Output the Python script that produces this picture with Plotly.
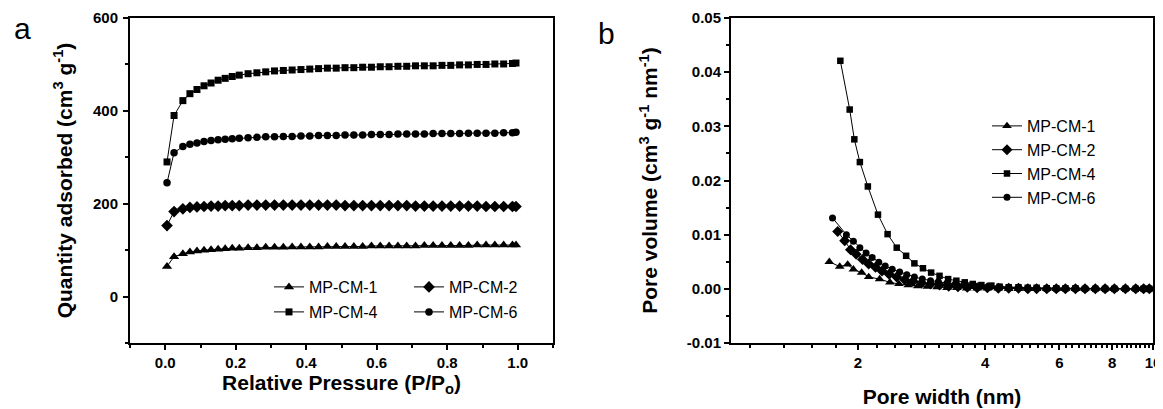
import plotly.graph_objects as go

# ---------------- data: panel a (N2 isotherms) ----------------
pressure = [0.005, 0.025, 0.05, 0.07, 0.09, 0.11, 0.13, 0.15, 0.17, 0.19, 0.21,
            0.235, 0.26, 0.285, 0.31, 0.335, 0.36, 0.385, 0.41, 0.435, 0.46,
            0.485, 0.51, 0.535, 0.56, 0.585, 0.61, 0.635, 0.66, 0.685, 0.71,
            0.735, 0.76, 0.785, 0.81, 0.835, 0.86, 0.885, 0.91, 0.935, 0.96,
            0.985, 0.995]
q_cm1 = [65, 86, 92, 96, 98, 100, 101, 102, 103, 104, 104, 105, 105, 106, 106,
         106, 107, 107, 107, 107, 108, 108, 108, 108, 108, 109, 109, 109, 109,
         109, 109, 110, 110, 110, 110, 110, 110, 111, 111, 111, 111, 111, 111]
q_cm2 = [153, 183, 189, 192, 193, 194, 195, 195, 196, 196, 196, 197, 197, 197,
         197, 197, 197, 197, 197, 197, 197, 197, 196, 196, 196, 196, 196, 196,
         196, 196, 195, 195, 195, 195, 195, 195, 195, 195, 194, 194, 194, 194, 194]
q_cm4 = [290, 390, 422, 437, 446, 454, 460, 466, 470, 474, 477, 480, 482, 484,
         486, 487, 488, 489, 490, 491, 492, 492, 493, 493, 494, 494, 495, 495,
         496, 496, 497, 497, 497, 498, 498, 499, 499, 500, 500, 501, 501, 502, 503]
q_cm6 = [245, 310, 323, 328, 331, 334, 336, 338, 339, 340, 341, 342, 343, 344,
         344, 345, 345, 346, 346, 347, 347, 347, 348, 348, 348, 349, 349, 349,
         350, 350, 350, 350, 351, 351, 351, 351, 352, 352, 352, 352, 353, 353, 354]

# ---------------- data: panel b (pore size distribution) ----------------
w_cm1 = [1.71, 1.81, 1.89, 1.95, 2.04, 2.12, 2.25, 2.38, 2.5, 2.63, 2.77, 2.92,
         3.08, 3.25, 3.43, 3.62, 3.83, 4.05, 4.3, 4.55, 4.8, 5.05, 5.3, 5.6, 5.9,
         6.2, 6.55, 6.9, 7.3, 7.7, 8.1, 8.6, 9.1, 9.5, 9.8]
v_cm1 = [0.0050, 0.0041, 0.0045, 0.0036, 0.0030, 0.0022, 0.0018, 0.0012, 0.0009,
         0.0007, 0.0005, 0.0004, 0.0003, 0.0002, 0.0002, 0.0001, 0.0001, 0.0001,
         0.0001, 0.0000, 0.0000, 0.0000, 0.0000, 0.0000, 0.0000, 0.0000, 0.0000,
         0.0000, 0.0000, 0.0000, 0.0000, 0.0000, 0.0000, 0.0000, 0.0000]
w_cm2 = [1.79, 1.86, 1.92, 1.98, 2.05, 2.12, 2.2, 2.28, 2.37, 2.47, 2.58, 2.7,
         2.83, 2.97, 3.12, 3.28, 3.45, 3.63, 3.83, 4.05, 4.3, 4.55, 4.8, 5.05,
         5.3, 5.6, 5.9, 6.2, 6.55, 6.9, 7.3, 7.7, 8.1, 8.6, 9.1, 9.5, 9.8]
v_cm2 = [0.0106, 0.0089, 0.0072, 0.0064, 0.0054, 0.0046, 0.0040, 0.0033, 0.0027,
         0.0022, 0.0017, 0.0014, 0.0011, 0.0009, 0.0007, 0.0005, 0.0004, 0.0003,
         0.0002, 0.0002, 0.0001, 0.0001, 0.0001, 0.0000, 0.0000, 0.0000, 0.0000,
         0.0000, 0.0000, 0.0000, 0.0000, 0.0000, 0.0000, 0.0000, 0.0000, 0.0000, 0.0000]
w_cm4 = [1.816, 1.911, 1.96, 2.02, 2.11, 2.23, 2.35, 2.47, 2.6, 2.72, 2.85, 2.98,
         3.12, 3.27, 3.42, 3.58, 3.74, 3.92, 4.14, 4.33, 4.55, 4.8, 5.05, 5.3,
         5.6, 5.9, 6.2, 6.55, 6.9, 7.3, 7.7, 8.1, 8.6, 9.1, 9.5, 9.8]
v_cm4 = [0.0421, 0.0331, 0.0276, 0.0234, 0.0189, 0.0137, 0.0101, 0.0076, 0.0061,
         0.0047, 0.0038, 0.0030, 0.0024, 0.0018, 0.0015, 0.0012, 0.0009, 0.0007,
         0.0006, 0.0004, 0.0003, 0.0003, 0.0002, 0.0002, 0.0001, 0.0001, 0.0001,
         0.0001, 0.0000, 0.0000, 0.0000, 0.0000, 0.0000, 0.0000, 0.0000, 0.0000]
w_cm6 = [1.74, 1.877, 1.95, 2.02, 2.09, 2.16, 2.24, 2.32, 2.41, 2.51, 2.61, 2.72,
         2.84, 2.97, 3.1, 3.25, 3.4, 3.56, 3.73, 3.92, 4.12, 4.34, 4.55, 4.8,
         5.05, 5.3, 5.6, 5.9, 6.2, 6.55, 6.9, 7.3, 7.7, 8.1, 8.6, 9.1, 9.5, 9.8]
v_cm6 = [0.0131, 0.0100, 0.0088, 0.0076, 0.0066, 0.0058, 0.0049, 0.0042, 0.0036,
         0.0031, 0.0026, 0.0022, 0.0018, 0.0015, 0.0013, 0.0011, 0.0009, 0.0008,
         0.0006, 0.0005, 0.0004, 0.0003, 0.0002, 0.0002, 0.0001, 0.0001, 0.0001,
         0.0001, 0.0000, 0.0000, 0.0000, 0.0000, 0.0000, 0.0000, 0.0000, 0.0000,
         0.0000, 0.0000]

names = ["MP-CM-1", "MP-CM-2", "MP-CM-4", "MP-CM-6"]
symbols = ["triangle-up", "diamond", "square", "circle"]
msizes = [9, 9, 7, 7.5]

x_major_b = [2, 4, 6, 8, 10]
y_ticks_b = [-0.01, 0.0, 0.01, 0.02, 0.03, 0.04, 0.05]
y_text_b = ["-0.01", "0.00", "0.01", "0.02", "0.03", "0.04", "0.05"]

W, H = 1163, 409
OFF = 8  # page body margin offset of the rendered figure


def px(x):
    return (x - OFF) / W


def py(y):
    return 1 - (y - OFF) / H


FONT = "Liberation Sans, Arial, sans-serif"
BLACK = "black"

fig = go.Figure()

a_y = [q_cm1, q_cm2, q_cm4, q_cm6]
a_leg = ["legend", "legend", "legend2", "legend2"]
for i in range(4):
    fig.add_trace(go.Scatter(
        x=pressure, y=a_y[i], name=names[i], mode="lines+markers",
        line=dict(color=BLACK, width=1),
        marker=dict(symbol=symbols[i], size=msizes[i], color=BLACK),
        xaxis="x", yaxis="y", legend=a_leg[i]))

b_x = [w_cm1, w_cm2, w_cm4, w_cm6]
b_y = [v_cm1, v_cm2, v_cm4, v_cm6]
for i in range(4):
    fig.add_trace(go.Scatter(
        x=b_x[i], y=b_y[i], name=names[i], mode="lines+markers",
        line=dict(color=BLACK, width=1),
        marker=dict(symbol=symbols[i], size=msizes[i] - 0.5, color=BLACK),
        xaxis="x2", yaxis="y2", legend="legend3"))

tickfont = dict(family=FONT, size=15, color=BLACK, weight="bold")
titlefont = dict(family=FONT, size=21, color=BLACK, weight="bold")
axcommon = dict(showgrid=False, zeroline=False, showline=True, linecolor=BLACK,
                linewidth=2, mirror=True, ticks="outside", ticklen=5,
                tickwidth=1.5, tickcolor=BLACK, tickfont=tickfont)

xd1 = [px(130), px(553)]
xd2 = [px(731), px(1153)]
yd = [py(343), py(18)]

legfont = dict(family=FONT, size=16, color=BLACK)

fig.update_layout(
    width=W, height=H,
    margin=dict(l=0, r=0, t=0, b=0, autoexpand=False),
    paper_bgcolor="white", plot_bgcolor="white",
    font=dict(family=FONT, color=BLACK),
    xaxis=dict(domain=xd1, range=[-0.1, 1.1], dtick=0.2, tick0=0, tickformat=".1f",
               minor=dict(dtick=0.1, tick0=0, ticklen=3, tickwidth=1.5,
                          tickcolor=BLACK, ticks="outside"),
               ticklabelstandoff=0,
               title=dict(text="Relative Pressure (P/P<sub>o</sub>)", font=titlefont,
                          standoff=0),
               anchor="y", **axcommon),
    yaxis=dict(domain=yd, range=[-100, 600], dtick=200, tick0=0,
               minor=dict(dtick=100, tick0=0, ticklen=3, tickwidth=1.5,
                          tickcolor=BLACK, ticks="outside"),
               ticklabelstandoff=2,
               title=dict(text="Quantity adsorbed (cm<sup>3</sup> g<sup>-1</sup>)",
                          font=titlefont, standoff=15),
               anchor="x", **axcommon),
    xaxis2=dict(domain=xd2, type="log", range=[0, 1], tickmode="array",
                tickvals=x_major_b, ticktext=[str(v) for v in x_major_b],
                minor=dict(dtick="L0.2222222222", tick0=2, ticklen=3,
                           tickwidth=1.5, tickcolor=BLACK, ticks="outside"),
                ticklabelstandoff=0,
                title=dict(text="Pore width (nm)", font=titlefont, standoff=19),
                anchor="y2", **axcommon),
    yaxis2=dict(domain=yd, range=[-0.01, 0.05], tickmode="array",
                tickvals=y_ticks_b, ticktext=y_text_b,
                minor=dict(dtick=0.005, tick0=0, ticklen=3, tickwidth=1.5,
                           tickcolor=BLACK, ticks="outside"),
                title=dict(text="Pore volume (cm<sup>3</sup> g<sup>-1</sup> nm<sup>-1</sup>)",
                           font=titlefont, standoff=23),
                anchor="x2", **axcommon),
    legend=dict(orientation="h", x=px(269), y=py(287), xanchor="left",
                yanchor="middle", entrywidth=95, bgcolor="rgba(0,0,0,0)",
                font=legfont, tracegroupgap=0),
    legend2=dict(orientation="h", x=px(269), y=py(312), xanchor="left",
                 yanchor="middle", entrywidth=95, bgcolor="rgba(0,0,0,0)",
                 font=legfont, tracegroupgap=0),
    legend3=dict(orientation="v", x=px(987), y=py(109), xanchor="left",
                 yanchor="top", bgcolor="rgba(0,0,0,0)",
                 font=legfont, tracegroupgap=0),
    annotations=[
        dict(text="a", x=px(22), y=py(29), xref="paper", yref="paper",
             showarrow=False, font=dict(family=FONT, size=30, color=BLACK),
             xanchor="center", yanchor="middle"),
        dict(text="b", x=px(606), y=py(34), xref="paper", yref="paper",
             showarrow=False, font=dict(family=FONT, size=30, color=BLACK),
             xanchor="center", yanchor="middle"),
    ],
)

fig.write_html("out.html")
